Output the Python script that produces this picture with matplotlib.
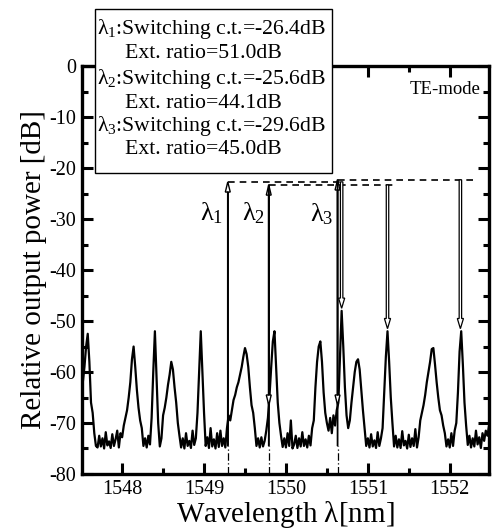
import matplotlib
matplotlib.use('Agg')
import matplotlib.pyplot as plt
import numpy as np
from matplotlib.patches import Rectangle
from matplotlib.ticker import MultipleLocator

plt.rcParams['font.family'] = ['Liberation Serif', 'DejaVu Serif']
plt.rcParams.update({'mathtext.fontset': 'custom', 'mathtext.rm': 'Liberation Serif',
                     'mathtext.default': 'regular', 'axes.unicode_minus': False,
                     'xtick.direction': 'in', 'ytick.direction': 'in'})

wl_start, wl_step = 1547.50, 0.02
power = [
    -64, -62, -59, -55, -52.5, -58, -66, -68, -72, -74.5,
    -74.8, -72.5, -74.6, -73.0, -75.0, -71.8, -74.4, -73.6, -74.9, -72.2,
    -74.5, -73.2, -71.5, -74.8, -72.0, -72.8, -70.5, -69, -67.5, -65,
    -62, -57.5, -55, -59, -63.5, -67, -69.5, -71, -74.5, -73,
    -74.8, -72.5, -74.2, -69, -60, -52, -61, -70, -74.6, -73,
    -68.5, -67, -65, -62.5, -60.5, -58, -59.5, -63, -66, -70,
    -72.5, -74.8, -73, -75, -72, -74.5, -73.5, -74.9, -71.5, -74.3,
    -73, -68, -60, -52, -60, -68, -74.5, -72.8, -74.9, -71,
    -74.6, -73.2, -75, -72, -74.7, -71.5, -74.5, -73, -74.8, -71,
    -68.5, -69.5, -67.5, -65.5, -64.5, -63, -62, -60.5, -59, -57,
    -55.3, -56.5, -59, -63, -66.5, -68, -71, -74.5, -73, -74.8,
    -72.8, -74.6, -73.5, -71.5, -69, -64.5, -59, -54, -52, -59,
    -66, -70, -72.5, -74.7, -73, -74.8, -72, -74.5, -69.5, -75,
    -74.2, -72.5, -74.9, -73, -74.6, -71.8, -74.5, -73.2, -74.8, -72.5,
    -74.4, -71, -69.5, -63, -58, -55, -54, -58, -64, -68,
    -70, -71.5, -69, -72, -68.5, -70.5, -67.5, -66, -57, -48,
    -55, -63, -68.5, -71, -69.5, -66, -63, -60, -58, -57.5,
    -59.5, -63.5, -67.5, -71, -74.5, -73, -74.8, -72.2, -74.6, -73.4,
    -74.9, -71.8, -74.5, -73, -71, -64, -57, -52, -58, -65,
    -70, -74.6, -72.5, -74.8, -73.2, -74.9, -71.6, -74.4, -73.5, -75,
    -72.3, -74.7, -73, -74.5, -71.2, -74.8, -72.8, -69.5, -68, -66.5,
    -64.5, -62, -60, -58, -55.5, -55.3, -58.5, -62, -65, -67.5,
    -68.5, -70.5, -72, -74.6, -73.2, -74.8, -72, -74.5, -71.5, -70,
    -64, -56, -52, -58.5, -66, -70.5, -74.3, -72.5, -74.8, -73,
    -74.6, -71.5, -74.2, -72.8, -74.9, -72, -73.5, -71.5, -72.5, -70.5,
    -69.5,
]
wavelength = wl_start + wl_step * np.arange(len(power))

# lambda_1..3 markers: wavelength, arrow top level [dB]
lam_wl = [1549.29, 1549.79, 1550.63]
lam_top = [-22.7, -23.3, -22.3]
lam_base = -74.5
lam_names = ['$\\lambda_1$', '$\\lambda_2$', '$\\lambda_3$']
lam_label_wl = [1549.09, 1549.60, 1550.44]
lam_label_db = [-28.8, -28.8, -29.0]
# extinction arrows (hollow), wavelength, top, tip
ext_wl = [1550.68, 1551.24, 1552.13]
ext_tip = [-47.5, -51.5, -51.5]
ext_end = [1550.70, 1551.35, 1552.28]
# down arrows to the trace at lambda_2, lambda_3
drop_wl = [1549.79, 1550.63]
drop_tip = [-66.5, -66.5]

ct_values = [-26.4, -25.6, -29.6]
ext_ratio = [51.0, 44.1, 45.0]

fig = plt.figure(figsize=(4.94, 5.29), dpi=100)
ax = fig.add_axes([0.166, 0.104, 0.824, 0.771])

ax.plot(wavelength, power, color='k', lw=1.6, zorder=2)

for w in lam_wl:
    ax.plot([w, w], [-80, lam_base], color='k', lw=0.9, ls=(0, (6, 2, 1, 2)), zorder=3)
for w, t in zip(lam_wl, lam_top):
    ax.arrow(w, lam_base, 0, t - lam_base, width=0.004, head_width=0.06, head_length=2.0,
             length_includes_head=True, fc='white', ec='k', lw=1, zorder=4)
for w, t in zip(drop_wl, drop_tip):
    top = lam_top[lam_wl.index(w)]
    ax.arrow(w, top, 0, t - top, width=0.004, head_width=0.06, head_length=2.0,
             length_includes_head=True, fc='white', ec='k', lw=1, zorder=4)
for w, t, tip, end in zip(lam_wl, lam_top, ext_tip, ext_end):
    ax.plot([w, end], [t, t], color='k', lw=1.2, ls=(0, (4, 3)), zorder=3)
for w, t, tip in zip(ext_wl, lam_top, ext_tip):
    ax.arrow(w, t, 0, tip - t, width=0.03, head_width=0.075, head_length=2.0,
             length_includes_head=True, fc='white', ec='k', lw=0.9, zorder=5)
for name, x, y in zip(lam_names, lam_label_wl, lam_label_db):
    ax.text(x, y, name, fontsize=19, ha='center', va='center')

ax.text(0.978, 0.943, 'TE-mode', transform=ax.transAxes, fontsize=13.5, ha='right', va='center')

ax.set_xlim(1547.51, 1552.48)
ax.set_ylim(-80, 0)
ax.xaxis.set_major_locator(MultipleLocator(1))
ax.xaxis.set_minor_locator(MultipleLocator(0.5))
ax.yaxis.set_major_locator(MultipleLocator(10))
ax.yaxis.set_minor_locator(MultipleLocator(5))
ax.tick_params(which='both', top=True, right=True, width=2.2, labelsize=14.5, pad=4)
ax.tick_params(which='major', length=8)
ax.tick_params(which='minor', length=4)
for s in ax.spines.values():
    s.set_linewidth(2.4)
ax.set_xlabel('Wavelength $\\lambda$[nm]', fontsize=21, labelpad=0)
ax.set_ylabel('Relative output power [dB]', fontsize=21, labelpad=2)

# info box above the axes
W, H = 494.0, 529.0
fig.patches.append(Rectangle((95 / W, 1 - 173 / H), 237 / W, 164 / H, transform=fig.transFigure,
                             fill=True, fc='white', ec='k', lw=1, zorder=10))
row_y = [29, 54, 79, 103, 126, 150]
for i in range(3):
    fig.text(97 / W, 1 - row_y[2 * i] / H,
             '$\\lambda_%d$:Switching c.t.=%.1fdB' % (i + 1, ct_values[i]),
             fontsize=15.7, ha='left', va='center', zorder=11)
    fig.text(125 / W, 1 - row_y[2 * i + 1] / H, 'Ext. ratio=%.1fdB' % ext_ratio[i],
             fontsize=15.7, ha='left', va='center', zorder=11)

fig.savefig('out.png', dpi=100)
